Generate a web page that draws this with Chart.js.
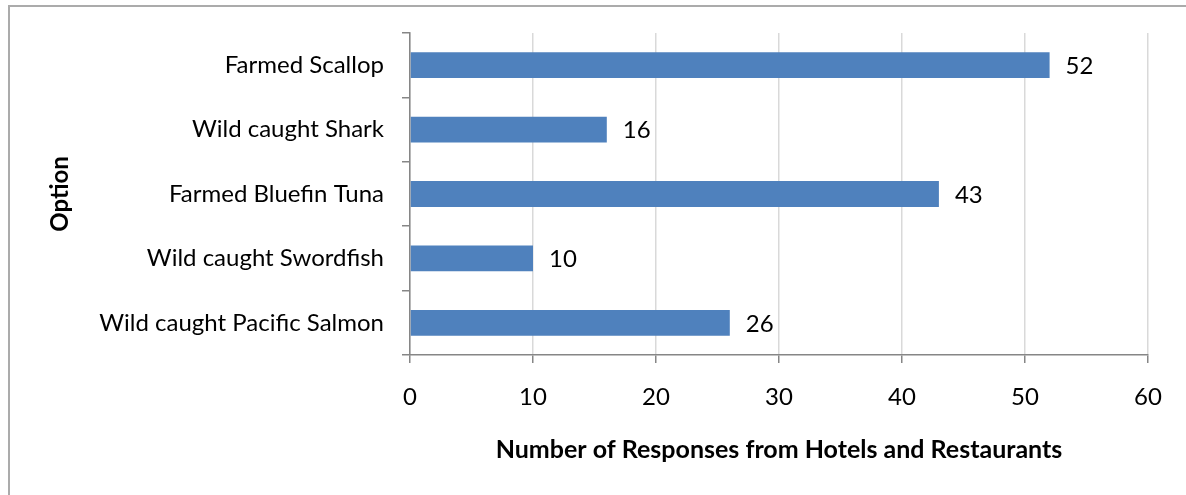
<!DOCTYPE html>
<html>
<head>
<meta charset="utf-8">
<title>Responses by Option</title>
<script src="https://cdn.jsdelivr.net/npm/chart.js@4/dist/chart.umd.min.js"></script>
<style>
    html, body { margin: 0; padding: 0; background: #fff; overflow: hidden; }
    #wrap { position: relative; width: 1186px; height: 495px; }
    #frame {
        position: absolute; left: 8px; top: 5px; right: 0; bottom: 0;
        border-left: 2px solid #ABABAB; border-top: 2px solid #ABABAB;
        pointer-events: none;
    }
    canvas { position: absolute; left: 0; top: 0; }
</style>
</head>
<body>
<div id="wrap">
    <canvas id="optionChart" width="1186" height="495"></canvas>
    <div id="frame"></div>
</div>
<script>
// Survey options, top to bottom
const options = [
    'Farmed Scallop',
    'Wild caught Shark',
    'Farmed Bluefin Tuna',
    'Wild caught Swordfish',
    'Wild caught Pacific Salmon'
];

// Number of responses for each option
const responses = [52, 16, 43, 10, 26];

// Value axis range
const axisMin = 0;
const axisMax = 60;
const axisStep = 10;

const FONT = 'Lato, "Open Sans", sans-serif';
const BAR_COLOR = '#4F81BD';

/**
 * Writes each bar's value just past its end
 */
const valueLabels = {
    id: 'valueLabels',
    afterDatasetsDraw(chart) {
        const ctx = chart.ctx;
        ctx.save();
        ctx.font = '24px ' + FONT;
        ctx.fillStyle = '#000';
        ctx.textAlign = 'left';
        ctx.textBaseline = 'middle';
        chart.getDatasetMeta(0).data.forEach((bar, i) => {
            ctx.fillText(String(responses[i]), bar.x + 16, bar.y + 1);
        });
        ctx.restore();
    }
};

const ctx = document.getElementById('optionChart');

new Chart(ctx, {
    type: 'bar',
    data: {
        labels: options,
        datasets: [{
            data: responses,
            backgroundColor: BAR_COLOR,
            borderWidth: 0,
            barPercentage: 0.4,
            categoryPercentage: 1
        }]
    },
    options: {
        indexAxis: 'y',
        responsive: false,
        animation: false,
        layout: {
            padding: { top: 33, right: 38, left: 0, bottom: 0 }
        },
        plugins: {
            legend: { display: false },
            tooltip: { enabled: false }
        },
        scales: {
            x: {
                min: axisMin,
                max: axisMax,
                ticks: {
                    stepSize: axisStep,
                    color: '#000',
                    padding: 20,
                    font: { family: FONT, size: 24 }
                },
                grid: {
                    color: '#D9D9D9',
                    lineWidth: 1.5,
                    tickColor: '#868686',
                    tickLength: 8
                },
                border: { color: '#868686', width: 1.5 },
                title: {
                    display: true,
                    text: 'Number of Responses from Hotels and Restaurants',
                    color: '#000',
                    font: { family: FONT, size: 25, weight: 'bold' },
                    padding: { top: 0, bottom: 30 }
                },
                afterFit(scale) {
                    scale.height = 140;
                }
            },
            y: {
                ticks: {
                    color: '#000',
                    padding: 18,
                    font: { family: FONT, size: 24 }
                },
                grid: {
                    drawOnChartArea: false,
                    color: '#868686',
                    tickColor: '#868686',
                    lineWidth: 1.5,
                    tickLength: 8
                },
                border: { color: '#868686', width: 1.5 },
                title: {
                    display: true,
                    text: 'Option',
                    color: '#000',
                    font: { family: FONT, size: 24, weight: 'bold' },
                    padding: { top: 46, bottom: 0 }
                },
                afterFit(scale) {
                    scale.width = 410;
                }
            }
        }
    },
    plugins: [valueLabels]
});
</script>
</body>
</html>
